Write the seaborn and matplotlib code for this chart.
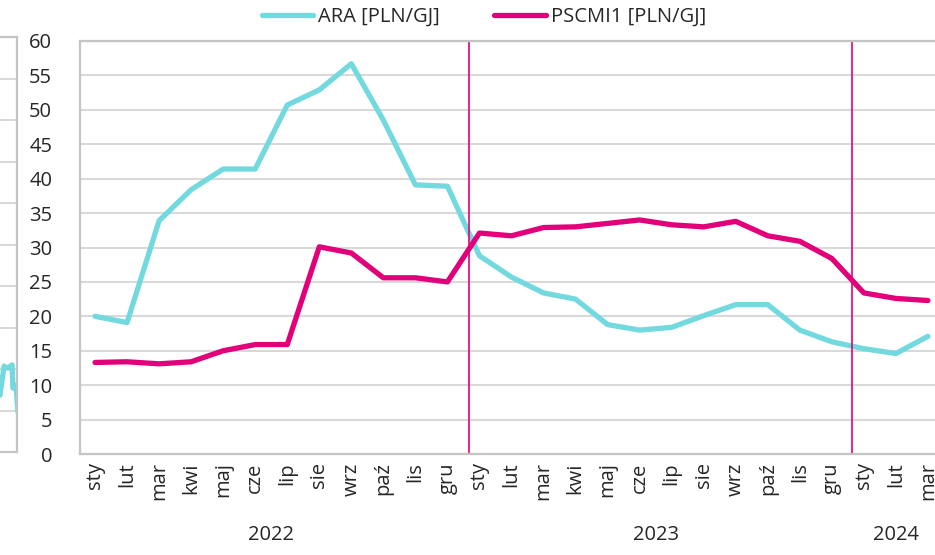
import pandas as pd
import matplotlib
matplotlib.use("Agg")
import matplotlib.pyplot as plt
import matplotlib.transforms as mtransforms
import seaborn as sns

# dane: miesiące sty 2022 - mar 2024
miesiace = ["sty", "lut", "mar", "kwi", "maj", "cze", "lip", "sie", "wrz", "paź", "lis", "gru",
            "sty", "lut", "mar", "kwi", "maj", "cze", "lip", "sie", "wrz", "paź", "lis", "gru",
            "sty", "lut", "mar"]
lata = ["2022", "2023", "2024"]
ara = [20.0, 19.1, 33.9, 38.4, 41.4, 41.4, 50.7, 52.9, 56.7, 48.5, 39.1, 38.9,
       28.8, 25.7, 23.4, 22.5, 18.8, 18.0, 18.4, 20.1, 21.7, 21.7, 18.0, 16.3,
       15.3, 14.6, 17.1]
pscmi1 = [13.3, 13.4, 13.1, 13.4, 15.0, 15.9, 15.9, 30.1, 29.2, 25.6, 25.6, 25.0,
          32.1, 31.7, 32.9, 33.0, 33.5, 34.0, 33.3, 33.0, 33.8, 31.7, 30.9, 28.4,
          23.4, 22.6, 22.3]

# fragment sąsiedniego wykresu przy lewej krawędzi
frag_x = [0.0, 0.24, 0.47, 0.71, 0.76, 0.94, 1.06]
frag_y = [1.37, 2.07, 2.02, 2.10, 1.54, 1.61, 0.96]

CYAN = "#72d9de"
MAGENTA = "#e2007a"
GRID = "#d9d9d9"
FRAME = "#c4c4c4"
FS = 14.5

sns.set_style("white")
plt.rcParams["font.family"] = ["Open Sans", "DejaVu Sans"]

df = pd.DataFrame({"idx": list(range(len(miesiace))) * 2,
                   "val": ara + pscmi1,
                   "seria": ["ARA [PLN/GJ]"] * len(ara) + ["PSCMI1 [PLN/GJ]"] * len(pscmi1)})

fig = plt.figure(figsize=(9.35, 5.55), dpi=100)
ax = fig.add_axes([80 / 935, 1 - 454 / 555, 1 - 80 / 935, 413 / 555])

sns.lineplot(data=df, x="idx", y="val", hue="seria",
             palette=[CYAN, MAGENTA], linewidth=3.8, ax=ax, legend=True)

ax.set_xlim(-0.47, 26.22)
ax.set_ylim(0, 60)
ax.set_yticks(range(0, 61, 5))
ax.yaxis.grid(True, color=GRID, linewidth=1.5)
ax.set_axisbelow(True)
ax.set_xticks(range(len(miesiace)))
ax.set_xticklabels(miesiace, rotation=90)
ax.tick_params(axis="y", labelsize=FS, pad=20, length=0)
ax.tick_params(axis="x", labelsize=FS, pad=6, length=0)
ax.set_xlabel("")
ax.set_ylabel("")
for s in ["left", "top", "bottom"]:
    ax.spines[s].set_color(FRAME)
    ax.spines[s].set_linewidth(1.6)
ax.spines["right"].set_visible(False)

# linie podziału lat
for xv in [11.68, 23.63]:
    ax.axvline(xv, color=MAGENTA, linewidth=1.2)

# etykiety lat
tr = mtransforms.blended_transform_factory(ax.transData, fig.transFigure)
for rok, xc in zip(lata, [5.5, 17.5, 25]):
    ax.text(xc, 1 - 535 / 555, rok, transform=tr, ha="center", va="center", fontsize=FS)

leg = ax.legend(loc="center", bbox_to_anchor=(484 / 935, 1 - 17 / 555),
                bbox_transform=fig.transFigure, ncol=2, frameon=False,
                fontsize=FS, handlelength=2.55, columnspacing=2.7, handletextpad=0.25)
for line in leg.get_lines():
    line.set_linewidth(3.8)

# fragment wykresu po lewej
ax0 = fig.add_axes([0, 1 - 452 / 555, 17 / 935, 415 / 555])
ax0.set_xlim(0, 1)
ax0.set_ylim(0, 10)
ax0.set_yticks(range(0, 11))
ax0.set_xticks([])
ax0.yaxis.grid(True, color=GRID, linewidth=1.5)
ax0.tick_params(length=0, labelleft=False)
ax0.plot(frag_x, frag_y, color=CYAN, linewidth=3.8, clip_on=True)
for s in ax0.spines.values():
    s.set_color(FRAME)
    s.set_linewidth(1.6)
ax0.spines["left"].set_visible(False)

fig.savefig("out.png", dpi=100)
